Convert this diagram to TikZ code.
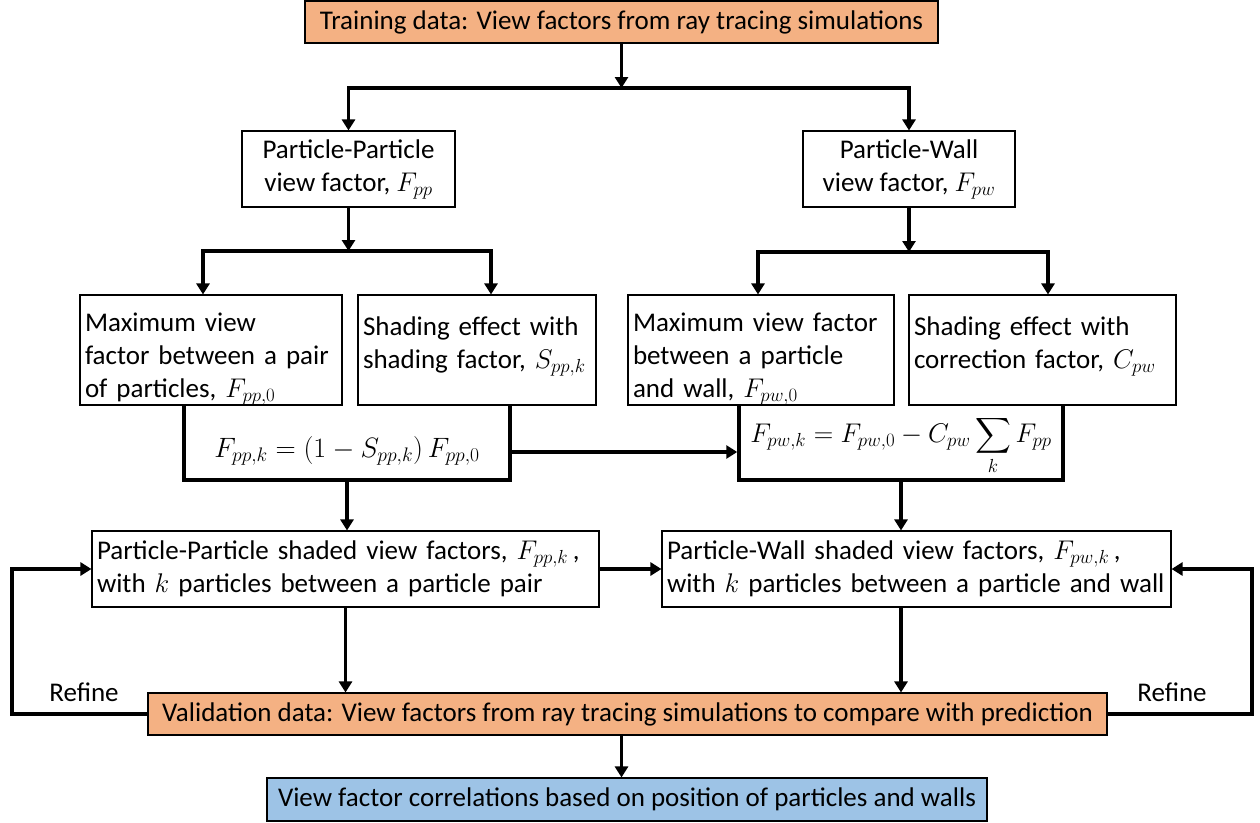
\RequirePackage{fix-cm}
\documentclass[tikz,border=0pt]{standalone}
\usepackage{amsmath}
\usepackage{fontspec}
\setmainfont{Carlito}
\usepackage{tikz}
\usetikzlibrary{arrows.meta}
\definecolor{trainorange}{RGB}{244,177,131}
\definecolor{resultblue}{RGB}{157,195,230}
\newcommand{\topgap}{\rule{0pt}{36pt}}
\tikzset{
	every node/.style={font=\fontsize{27}{33}\selectfont},
	box/.style={draw=black,line width=1.1pt,fill=white,inner sep=0pt},
	txtbox/.style={box,align=left,inner xsep=5pt},
	data/.style={box,fill=trainorange,minimum height=42pt},
	form/.style={inner sep=0pt,outer sep=0pt,minimum height=75pt},
	formside/.style={line width=3.5pt},
	arr/.style={line width=3.5pt,-{Triangle[width=13pt,length=11pt]}}
}

\begin{document}
\begin{tikzpicture}[x=1pt,y=-1pt]
		\useasboundingbox (0,0) rectangle (1260,822);
		
		\node[data,minimum width=633pt] (train) at (621.5,22) {Training data: View factors from ray tracing simulations};
		
		\node[box,align=center,minimum width=213pt,minimum height=76pt] (ppvf) at (348.5,169) {Particle-Particle\\view factor, $F_{pp}$};
		\node[box,align=center,minimum width=212pt,minimum height=76pt] (pwvf) at (909,169) {Particle-Wall\\view factor, $F_{pw}$};
		
		% formula boxes, open at the top
		\node[form,minimum width=326pt,text height=35pt,text depth=6pt,font=\fontsize{28}{34}\selectfont] (ppform) at (347,442.5) {$F_{pp,k} = (1 - S_{pp,k})\,F_{pp,0}$};
		\node[form,minimum width=324pt,text height=28pt,text depth=28pt,font=\fontsize{27}{33}\selectfont] (pwform) at (901,442.5) {$\displaystyle F_{pw,k} = F_{pw,0} - C_{pw}\sum_{k} F_{pp}$};
		\draw[formside] (ppform.north west) -- (ppform.south west) -- (ppform.south east) -- (ppform.north east);
		\draw[formside] (pwform.north west) -- (pwform.south west) -- (pwform.south east) -- (pwform.north east);
		
		\node[txtbox,text width=252pt,minimum height=110pt] (ppmax) at (211,350) {\topgap Maximum view\\factor between a pair\\of particles, $F_{pp,0}$};
		\node[txtbox,text width=228pt,minimum height=110pt] (ppshade) at (477,350) {\topgap Shading effect with\\shading factor, $S_{pp,k}$\\~};
		\node[txtbox,text width=256pt,minimum height=110pt] (pwmax) at (761,350) {\topgap Maximum view factor\\between a particle\\and wall, $F_{pw,0}$};
		\node[txtbox,text width=257pt,minimum height=110pt] (pwshade) at (1042.5,350) {\topgap Shading effect with\\correction factor, $C_{pw}$\\~};
		
		\node[txtbox,text width=497pt,minimum height=76pt] (ppk) at (345.5,569) {Particle-Particle shaded view factors, $F_{pp,k}$\,,\\with $k$ particles between a particle pair};
		\node[txtbox,text width=499pt,minimum height=76pt] (pwk) at (916.5,569) {Particle-Wall shaded view factors, $F_{pw,k}$\,,\\with $k$ particles between a particle and wall};
		
		\node[data,minimum width=959pt] (valid) at (627.5,714) {Validation data: View factors from ray tracing simulations to compare with prediction};
		\node[box,fill=resultblue,minimum width=720pt,minimum height=43pt] (corr) at (627,799.5) {View factor correlations based on position of particles and walls};
		
		\node (refl) at (84,692) {Refine};
		\node (refr) at (1172,692) {Refine};
		
		% splits
		\coordinate (trsplit) at (621.5,88);
		\coordinate (ppsplit) at (348.5,251);
		\coordinate (pwsplit) at (909,252);
		\coordinate (loopl) at (12,714);
		\coordinate (loopr) at (1252,714);
		
		\draw[arr] (train) -- (trsplit);
		\draw[arr] (trsplit) -| (ppvf);
		\draw[arr] (trsplit) -| (pwvf);
		
		\draw[arr] (ppvf) -- (ppsplit);
		\draw[arr] (ppsplit) -| ([xshift=-8pt]ppmax.north);
		\draw[arr] (ppsplit) -| ([xshift=14pt]ppshade.north);
		\draw[arr] (pwvf) -- (pwsplit);
		\draw[arr] (pwsplit) -| ([xshift=-3pt]pwmax.north);
		\draw[arr] (pwsplit) -| ([xshift=5.5pt]pwshade.north);
		
		\draw[arr] ([yshift=-9.5pt,xshift=1.75pt]ppform.east) -- ([yshift=-9.5pt,xshift=-1.75pt]pwform.west);
		\draw[arr] ([yshift=-1.75pt]ppform.south) -- (ppform.south |- ppk.north);
		\draw[arr] ([yshift=-1.75pt]pwform.south) -- (pwform.south |- pwk.north);
		\draw[arr] (ppk) -- (pwk);
		
		\draw[arr] (ppk.south) -- (ppk.south |- valid.north);
		\draw[arr] (pwform.south |- pwk.south) -- (pwform.south |- valid.north);
		\draw[arr] (valid) -- (loopl) |- (ppk);
		\draw[arr] (valid) -- (loopr) |- (pwk);
		\draw[arr] (valid.south -| train.south) -- (corr.north -| train.south);
		
\end{tikzpicture}
\end{document}
